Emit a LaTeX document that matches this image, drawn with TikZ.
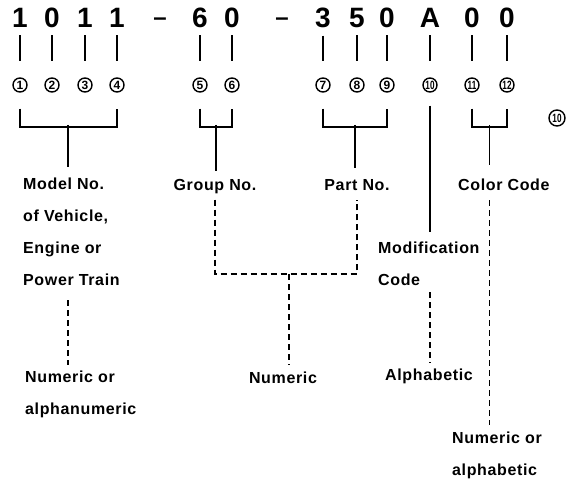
\documentclass[tikz,border=0pt]{standalone}
\usepackage{fontspec}
\setmainfont{Liberation Sans}
\newfontfamily\lblfont[LetterSpace=4]{Liberation Sans}
\tikzset{
  digit/.style={font=\fontsize{28}{28}\selectfont\bfseries, inner sep=0pt, anchor=base},
  hyph/.style={font=\fontsize{24}{24}\selectfont\bfseries, inner sep=0pt, anchor=base},
  numcirc/.style={draw, circle, line width=1.4pt, minimum size=14pt, inner sep=0pt, font=\fontsize{12}{12}\selectfont\bfseries},
  lbl/.style={font=\lblfont\fontsize{16}{32}\selectfont\bfseries, inner sep=0pt, align=left},
  code/.style={line width=1.8pt},
  guide/.style={line width=1.5pt, dash pattern=on 6pt off 4pt},
}
\begin{document}
\begin{tikzpicture}[x=1pt, y=-1pt]
    \useasboundingbox (0,0) rectangle (570,481);
    % digits of the part number and their circled positions
    \foreach \n/\d/\x in {1/1/20, 2/0/52, 3/1/85, 4/1/117, 5/6/200, 6/0/232,
                          7/3/323, 8/5/357, 9/0/387, 10/A/430, 11/0/472, 12/0/507} {
      \node[digit] (d\n) at (\x,28) {\d};
      \node[numcirc] (c\n) at (\x,85) {\ifnum\n>9 \scalebox{.68}[1]{\n}\else\n\fi};
      \draw[code, shorten <=7pt, shorten >=16pt] (d\n) -- (c\n);
    }
    \node[hyph] (h1) at (160,28) {\raisebox{2pt}{--}};
    \node[hyph] (h2) at (282,28) {\raisebox{2pt}{--}};
    \node[numcirc, minimum size=16pt] (c10b) at (557,118) {\scalebox{.68}[1]{10}};
    % brackets
    \draw[code] ([yshift=-16pt]c1.south) |- ([yshift=-34pt]c4.south) -- ([yshift=-16pt]c4.south);
    \draw[code] ([yshift=-16pt]c5.south) |- ([yshift=-34pt]c6.south) -- ([yshift=-16pt]c6.south);
    \draw[code] ([yshift=-16pt]c7.south) |- ([yshift=-34pt]c9.south) -- ([yshift=-16pt]c9.south);
    \draw[code] ([yshift=-16pt]c11.south) |- ([yshift=-34pt]c12.south) -- ([yshift=-16pt]c12.south);
    \coordinate (mA) at (68,125);
    \coordinate (mB) at (216,125);
    \coordinate (mC) at (355,125);
    \coordinate (mD) at (489.5,125);
    % labels
    \node[lbl, anchor=north west] (model) at (23,178) {Model No.\\of Vehicle,\\Engine or\\Power Train};
    \node[lbl, anchor=base] (group) at (215,190) {Group No.};
    \node[lbl, anchor=base] (part) at (357,190) {Part No.};
    \node[lbl, anchor=base west] (color) at (458,190) {Color Code};
    \node[lbl, anchor=north west] (modif) at (378,242) {Modification\\Code};
    \node[lbl, anchor=north west] (numA) at (25,371) {Numeric or\\alphanumeric};
    \node[lbl, anchor=base] (numB) at (283,383) {Numeric};
    \node[lbl, anchor=base west] (alpha) at (385,380) {Alphabetic};
    \node[lbl, anchor=north west] (numC) at (452,432) {Numeric or\\alphabetic};
    % solid stems
    \draw[code, shorten >=11pt] (mA) -- (mA |- model.north);
    \draw[code, shorten >=8pt] (mB) -- (mB |- group.north);
    \draw[code, shorten >=11pt] (mC) -- (mC |- part.north);
    \draw[code, shorten >=13pt] (mD) -- (mD |- color.north);
    \draw[code, shorten <=13pt, shorten >=10pt] (c10) -- (c10 |- modif.north);
    % dashed guides
    \coordinate (jn) at (289,274);
    \draw[guide, shorten <=14pt, shorten >=6pt] (model.south -| mA) -- (numA.north -| mA);
    \draw[guide, shorten <=6pt, shorten >=10pt] (group.south) |- (jn) -| (part.south);
    \draw[guide, shorten >=6pt] (jn) -- (numB.north -| jn);
    \draw[guide, shorten <=6pt, shorten >=5pt] (modif.south -| c10) -- (alpha.north -| c10);
    \draw[guide, shorten <=10pt, shorten >=7pt] (color.south -| mD) -- (numC.north -| mD);
  \end{tikzpicture}
\end{document}
